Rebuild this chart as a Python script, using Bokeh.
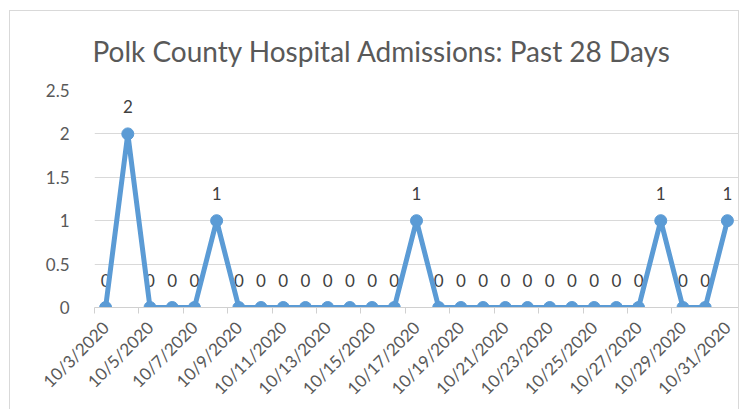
import math
from bokeh.plotting import figure
from bokeh.models import FixedTicker, LinearAxis, ColumnDataSource, Range1d
from bokeh.core.properties import value
from bokeh.embed import file_html
from bokeh.resources import INLINE

dates = ["10/3/2020", "10/4/2020", "10/5/2020", "10/6/2020", "10/7/2020",
         "10/8/2020", "10/9/2020", "10/10/2020", "10/11/2020", "10/12/2020",
         "10/13/2020", "10/14/2020", "10/15/2020", "10/16/2020", "10/17/2020",
         "10/18/2020", "10/19/2020", "10/20/2020", "10/21/2020", "10/22/2020",
         "10/23/2020", "10/24/2020", "10/25/2020", "10/26/2020", "10/27/2020",
         "10/28/2020", "10/29/2020", "10/30/2020", "10/31/2020"]
admissions = [0, 2, 0, 0, 0, 1, 0, 0, 0, 0, 0, 0, 0, 0, 1,
              0, 0, 0, 0, 0, 0, 0, 0, 0, 0, 1, 0, 0, 1]
y_ticks = [0, 0.5, 1, 1.5, 2, 2.5]
y_tick_labels = ["0", "0.5", "1", "1.5", "2", "2.5"]

FONT = "Lato"
GRAY = "#595959"
GRID = "#d9d9d9"
BLUE = "#5B9BD5"

idx = list(range(len(dates)))
src = ColumnDataSource(dict(x=idx, y=admissions, lbl=[str(v) for v in admissions]))

p = figure(width=730, height=399, output_backend="svg", toolbar_location=None,
           x_range=Range1d(-0.5, len(dates) - 0.5), y_range=Range1d(0, 2.5),
           min_border_left=84, min_border_right=2, min_border_top=79,
           min_border_bottom=103)
p.styles = {"margin-left": "9px", "margin-top": "10px",
            "border-top": "1px solid #d9d9d9", "border-left": "1px solid #d9d9d9",
            "border-right": "1px solid #d9d9d9"}
p.outline_line_color = None
p.background_fill_color = "white"
p.border_fill_color = "white"

p.title.text = "Polk County Hospital Admissions: Past 28 Days"
p.title.text_font = FONT
p.title.text_font_size = "28px"
p.title.text_font_style = "normal"
p.title.text_color = GRAY
p.title.text_line_height = 0.8
p.title.align = "left"
p.title.vertical_align = "top"
p.title.offset = -2
p.title.standoff = 41

# y axis
p.yaxis.ticker = FixedTicker(ticks=y_ticks)
p.yaxis.major_label_overrides = {t: l for t, l in zip(y_ticks, y_tick_labels)}
p.yaxis.axis_line_color = None
p.yaxis.major_tick_line_color = None
p.yaxis.minor_tick_line_color = None
p.yaxis.major_label_standoff = 19
p.yaxis.major_label_text_font = FONT
p.yaxis.major_label_text_font_size = "17px"
p.yaxis.major_label_text_color = GRAY

p.ygrid.ticker = FixedTicker(ticks=y_ticks)
p.ygrid.grid_line_color = GRID
p.xgrid.grid_line_color = None

# x axis: tick marks between category pairs
tick_marks = [i - 0.5 for i in idx[::2] if i < len(dates) - 1]
xa = p.xaxis[0]
xa.ticker = FixedTicker(ticks=tick_marks)
xa.major_label_overrides = {t: "" for t in tick_marks}
xa.major_label_text_font_size = "0px"
xa.major_label_standoff = 0
xa.axis_line_color = "#d0d0d0"
xa.major_tick_line_color = "#d0d0d0"
xa.major_tick_in = 0
xa.major_tick_out = 6
xa.minor_tick_line_color = None

# x axis labels on every other category
lab_ticks = idx[::2]
xb = LinearAxis(ticker=FixedTicker(ticks=lab_ticks),
                major_label_overrides={i: dates[i] for i in lab_ticks})
xb.axis_line_color = None
xb.major_tick_line_color = None
xb.minor_tick_line_color = None
xb.major_tick_out = 0
xb.major_tick_in = 0
xb.major_label_standoff = 11
xb.major_label_orientation = math.pi / 4
xb.major_label_text_font = FONT
xb.major_label_text_font_size = "17px"
xb.major_label_text_color = GRAY
p.add_layout(xb, "below")

# data labels (under the line)
p.text("x", "y", text="lbl", source=src, text_align="center", text_baseline="middle",
       y_offset=-27, text_font_size="17px", text_color="#404040",
       text_font=value(FONT))

p.line("x", "y", source=src, line_color=BLUE, line_width=5)
p.scatter("x", "y", source=src, size=12, fill_color=BLUE, line_color=BLUE)

open("out.html", "w").write(file_html(p, INLINE))
